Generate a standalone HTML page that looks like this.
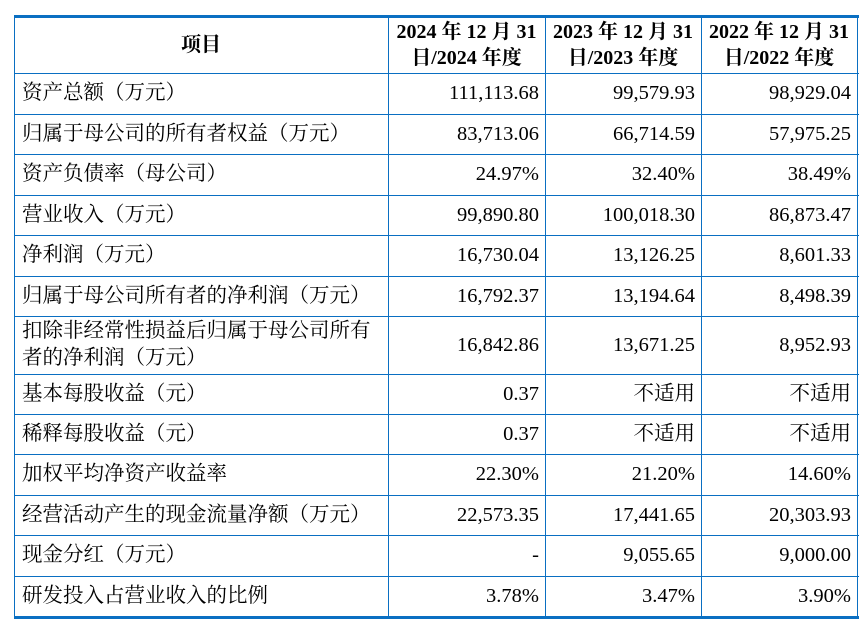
<!DOCTYPE html>
<html><head><meta charset="utf-8"><style>
body{margin:0;width:865px;height:624px;background:#fff;overflow:hidden;font-family:"Liberation Serif","Noto Serif CJK SC",serif;color:#000}
.c{position:absolute;box-sizing:border-box;display:flex;align-items:center;font-size:20.5px;line-height:27px}
.l{padding-left:8px}
.r{justify-content:flex-end;padding-right:6px}
.h{justify-content:center;text-align:center;font-weight:bold;font-size:20px;line-height:26px}
.hl{position:absolute;background:#0a6fc2}
</style></head><body>
<div id="t"></div>
<script>
const rows=[
["资产总额（万元）","111,113.68","99,579.93","98,929.04"],
["归属于母公司的所有者权益（万元）","83,713.06","66,714.59","57,975.25"],
["资产负债率（母公司）","24.97%","32.40%","38.49%"],
["营业收入（万元）","99,890.80","100,018.30","86,873.47"],
["净利润（万元）","16,730.04","13,126.25","8,601.33"],
["归属于母公司所有者的净利润（万元）","16,792.37","13,194.64","8,498.39"],
["扣除非经常性损益后归属于母公司所有者的净利润（万元）","16,842.86","13,671.25","8,952.93"],
["基本每股收益（元）","0.37","不适用","不适用"],
["稀释每股收益（元）","0.37","不适用","不适用"],
["加权平均净资产收益率","22.30%","21.20%","14.60%"],
["经营活动产生的现金流量净额（万元）","22,573.35","17,441.65","20,303.93"],
["现金分红（万元）","-","9,055.65","9,000.00"],
["研发投入占营业收入的比例","3.78%","3.47%","3.90%"]];
const headers=["项目","2024 年 12 月 31 日/2024 年度","2023 年 12 月 31 日/2023 年度","2022 年 12 月 31 日/2022 年度"];
const ys=[17,73,114,154,195,235,276,316,374,414,454,495,535,576,617];
const xs=[14,388,545,701,857];
const t=document.getElementById('t');
function cell(x0,x1,y0,y1,txt,cls,name){const d=document.createElement('div');d.className='c '+cls;d.style.left=x0+'px';d.style.width=(x1-x0)+'px';d.style.top=y0+'px';d.style.height=(y1-y0)+'px';d.textContent=txt;


t.appendChild(d);}
headers.forEach((h,i)=>cell(xs[i],xs[i+1],ys[0],ys[1],h,'h',i?'header-year-'+i:'header-item'));
rows.forEach((r,j)=>r.forEach((v,i)=>{cell(xs[i],xs[i+1],ys[j+1],ys[j+2],v,i?'r':'l',i?'value-cell':'row-label');}));
function line(x,y,w,h,name){const d=document.createElement('div');d.className='hl';d.style.left=x+'px';d.style.top=y+'px';d.style.width=w+'px';d.style.height=h+'px';


t.appendChild(d);}
line(14,15,845,3,'top-border');line(14,616,845,3,'bottom-border');
ys.slice(1,-1).forEach(y=>line(14,y,845,1,'row-line'));
xs.forEach(x=>line(x,15,1,603,'col-line'));
document.querySelectorAll('.h').forEach((d,i)=>{if(i){d.innerHTML=headers[i].replace('日/','<br>日/');}});
document.querySelectorAll('.l').forEach(d=>{if(d.textContent.length>20){d.innerHTML='扣除非经常性损益后归属于母公司所有<br>者的净利润（万元）';}});
</script>
</body></html>
